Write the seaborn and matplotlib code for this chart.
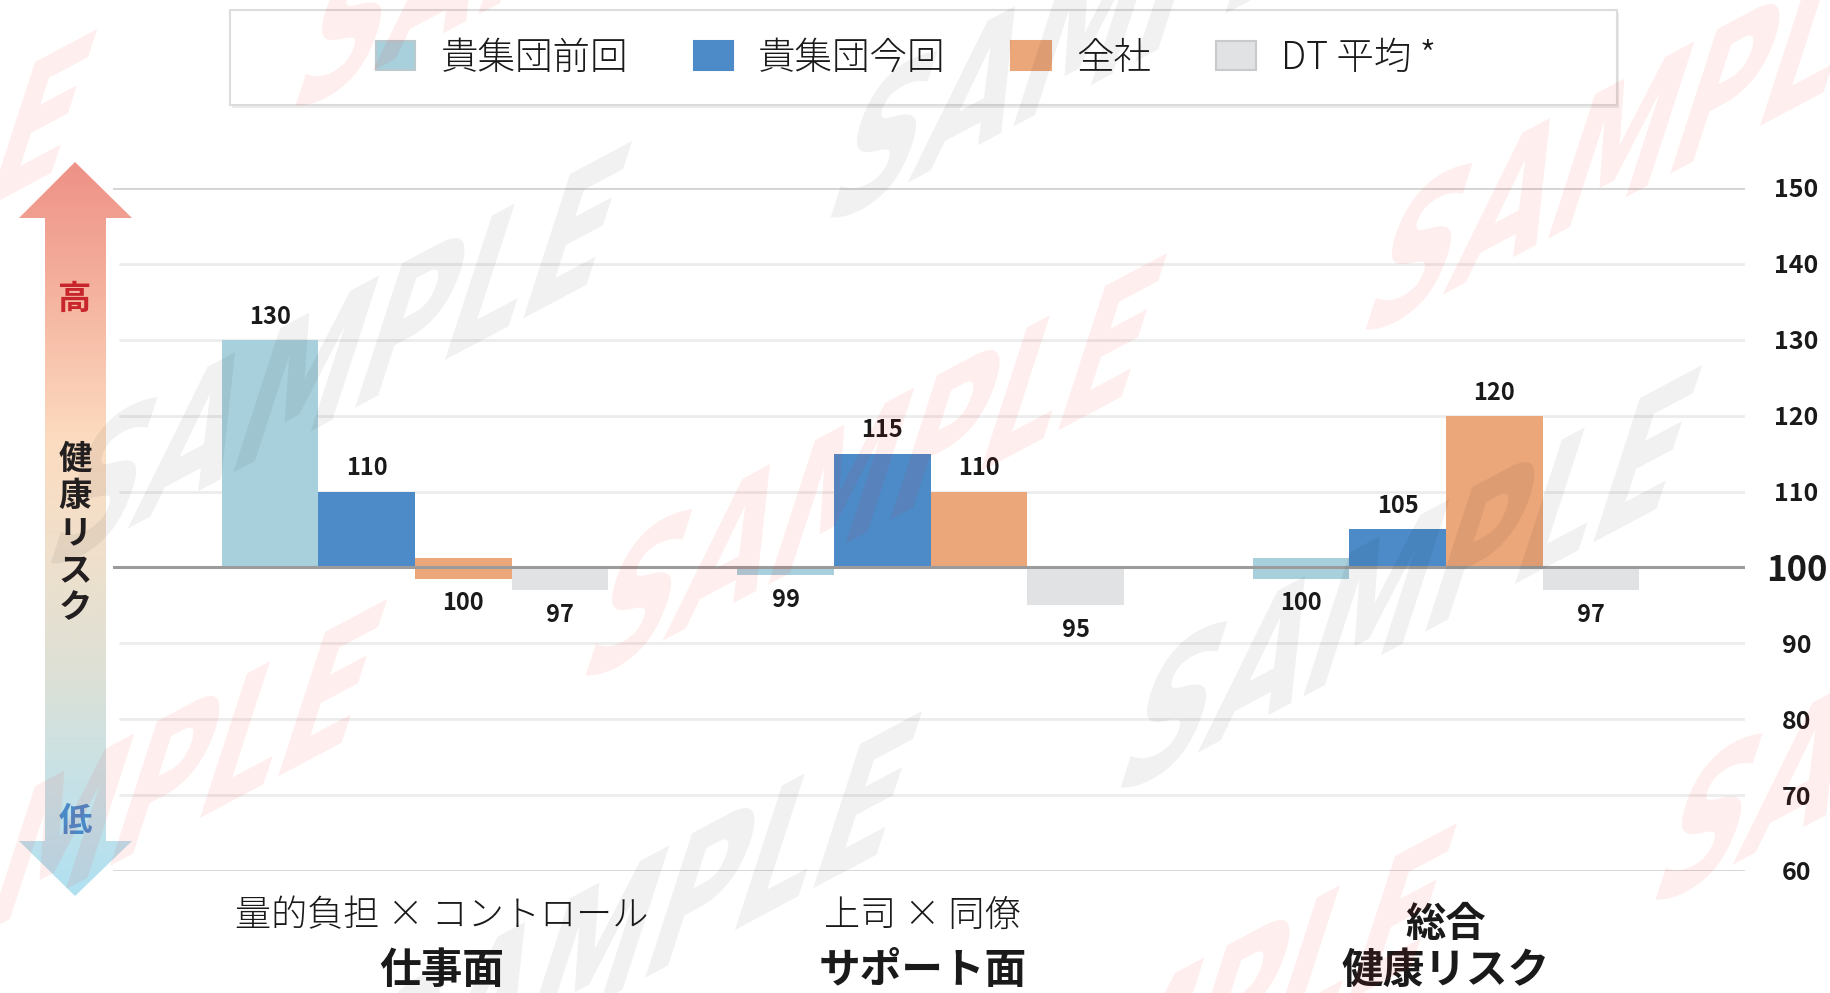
import numpy as np
import pandas as pd
import matplotlib
matplotlib.use("Agg")
import matplotlib.pyplot as plt
import matplotlib.patheffects as pe
from matplotlib.colors import LinearSegmentedColormap
from matplotlib.patches import Patch, Polygon, Rectangle
from matplotlib.transforms import Affine2D
import seaborn as sns

# ---------------- data ----------------
group_line1 = ["量的負担 × コントロール", "上司 × 同僚", "総合"]
group_line2 = ["仕事面", "サポート面", "健康リスク"]
series_names = ["貴集団前回", "貴集団今回", "全社", "DT 平均 *"]
prev_values = [130, 99, 100]
curr_values = [110, 115, 105]
company_values = [100, 110, 120]
dt_values = [97, 95, 97]
y_ticks = [60, 70, 80, 90, 100, 110, 120, 130, 140, 150]
baseline = 100
axis_high, axis_mid, axis_low = "高", "健康リスク", "低"
watermark_text = "SAMPLE"

# ---------------- style ----------------
colors = ["#a7d0dc", "#4c8bc8", "#eba679", "#e1e2e4"]
legend_edges = ["#b9c9ce", "#4c8bc8", "#eba679", "#c9cacc"]
W, H = 1831, 993
AX_L, AX_R, AX_T, AX_B = 113, 1745, 188, 871   # pixel frame of plot area
STUB_LO, STUB_HI = 1.5, 1.2                      # visual stub for bars equal to baseline
label_dx_pt = [19, -6, 0]                        # horizontal nudge of category captions

sns.set_style("white")
plt.rcParams["font.family"] = ["Noto Sans CJK JP", "DejaVu Sans"]

groups = [f"{a}\n{b}" for a, b in zip(group_line1, group_line2)]
values = [prev_values, curr_values, company_values, dt_values]
df = pd.DataFrame(
    [{"group": g, "series": s, "value": v}
     for s, vals in zip(series_names, values) for g, v in zip(groups, vals)]
)
df["delta"] = df["value"] - baseline

fig = plt.figure(figsize=(W / 100, H / 100), dpi=100)
fig.patch.set_facecolor("white")

# background overlay in pixel coordinates
bg = fig.add_axes([0, 0, 1, 1], zorder=-5)
bg.axis("off")

ax = fig.add_axes([AX_L / W, 1 - AX_B / H, (AX_R - AX_L) / W, (AX_B - AX_T) / H], zorder=1)
ax.patch.set_alpha(0)

sns.barplot(data=df, x="group", y="delta", hue="series", order=groups,
            hue_order=series_names, palette=colors, saturation=1, width=0.75,
            gap=0, legend=False, ax=ax, zorder=2, linewidth=0)

# stubs for values sitting on the baseline
for container in ax.containers:
    for bar in container:
        if bar.get_height() == 0:
            bar.set_y(-STUB_LO)
            bar.set_height(STUB_LO + STUB_HI)

# value labels
for container, vals in zip(ax.containers, values):
    for bar, v in zip(container, vals):
        cx = bar.get_x() + bar.get_width() / 2
        y0, y1 = bar.get_y(), bar.get_y() + bar.get_height()
        if v > baseline:
            ax.annotate(str(v), (cx, max(y0, y1)), xytext=(0, 8), textcoords="offset points",
                        ha="center", va="bottom", fontsize=17, fontweight="bold", color="#1a1a1a")
        else:
            ax.annotate(str(v), (cx, min(y0, y1)), xytext=(0, -9), textcoords="offset points",
                        ha="center", va="top", fontsize=17, fontweight="bold", color="#1a1a1a")

# horizontal grid lines
for t in y_ticks:
    if t == baseline:
        ax.axhline(t - baseline, color="#9b9b9b", lw=2.2, zorder=3)
    elif t in (y_ticks[0], y_ticks[-1]):
        ax.axhline(t - baseline, color="#d4d4d4", lw=2, zorder=0.5)
    else:
        ax.axhline(t - baseline, xmin=0.004, color="#ececec", lw=2, zorder=0.5)

ax.set_ylim(y_ticks[0] - baseline, y_ticks[-1] - baseline)
ax.set_xlim(-0.586, 2.580)
ax.set_yticks([t - baseline for t in y_ticks])
ax.set_yticklabels([str(t) for t in y_ticks])
ax.yaxis.tick_right()
ax.tick_params(axis="y", length=0, pad=37, labelsize=18, labelcolor="#1a1a1a")
for t, lab in zip(y_ticks, ax.get_yticklabels()):
    lab.set_ha("center")
    lab.set_fontweight("bold")
    if t == baseline:
        lab.set_fontsize(25)
ax.set_xticks(range(len(groups)))
ax.set_xticklabels([])
ax.tick_params(axis="x", length=0)
ax.set_xlabel("")
ax.set_ylabel("")
ax.grid(False)
sns.despine(ax=ax, left=True, bottom=True, right=True, top=True)

# category labels (two lines)
def ay(px):
    return (AX_B - px) / (AX_B - AX_T)

trans = ax.get_xaxis_transform()
for i, (l1, l2) in enumerate(zip(group_line1, group_line2)):
    bold_first = i == len(groups) - 1
    ax.annotate(l1, (i, ay(924 if bold_first else 916)), xycoords=trans,
                xytext=(label_dx_pt[i], 0), textcoords="offset points", ha="center", va="center",
                fontsize=29 if bold_first else 26, fontweight="bold" if bold_first else "light",
                color="#1a1a1a", annotation_clip=False)
    ax.annotate(l2, (i, ay(971)), xycoords=trans,
                xytext=(label_dx_pt[i], 0), textcoords="offset points", ha="center", va="center",
                fontsize=30, fontweight="bold", color="#1a1a1a", annotation_clip=False)

# legend with frame
handles = [Patch(facecolor=c, edgecolor=e, linewidth=1.5) for c, e in zip(colors, legend_edges)]
fig.legend(handles, series_names, ncol=4, loc="center", bbox_to_anchor=(906 / W, 1 - 58 / H),
           frameon=False, prop={"size": 27, "weight": "light"}, handlelength=1.05,
           handleheight=0.8, handletextpad=0.67, columnspacing=1.75, borderpad=0,
           labelcolor="#1a1a1a")
bg.add_patch(Rectangle((232, 13), 1387, 95, facecolor="#ebebeb", edgecolor="none", zorder=1))
bg.add_patch(Rectangle((230, 10), 1387, 95, facecolor="white", edgecolor="#dcdcdc", lw=1.5, zorder=2))

# gradient arrow on the left
arrow_cmap = LinearSegmentedColormap.from_list(
    "risk", [(0, "#ee9187"), (0.15, "#f4ad9a"), (0.38, "#fcdcc0"), (0.55, "#eee0cd"),
             (0.7, "#dde0d6"), (0.85, "#c6e2e7"), (1, "#b0e0f1")])
verts = [(75, 162), (132, 218), (106, 218), (106, 841), (132, 841), (75, 896),
         (19, 841), (45, 841), (45, 218), (19, 218)]
poly = Polygon(verts, closed=True, facecolor="none", edgecolor="none")
bg.add_patch(poly)
im = bg.imshow(np.linspace(0, 1, 256)[:, None], cmap=arrow_cmap, extent=(19, 132, 896, 162),
               aspect="auto", interpolation="bicubic", zorder=3)
im.set_clip_path(poly)
bg.text(75, 299, axis_high, ha="center", va="center", fontsize=24, fontweight="bold", color="#c8242b", zorder=4)
bg.text(75, 534, "\n".join(axis_mid), ha="center", va="center", fontsize=24, fontweight="bold",
        color="#231f20", linespacing=1.17, zorder=4)
bg.text(75, 821, axis_low, ha="center", va="center", fontsize=24, fontweight="bold", color="#4a89c8", zorder=4)
bg.set_xlim(0, W)
bg.set_ylim(H, 0)

# faint sheared watermark
class Shear(pe.AbstractPathEffect):
    def __init__(self, center, m):
        super().__init__()
        self.center, self.m = center, m

    def draw_path(self, renderer, gc, tpath, affine, rgbFace=None):
        cx, cy = self.center
        a, b, c, d = self.m
        extra = (Affine2D().translate(-cx, -cy) + Affine2D.from_values(a, b, c, d, 0, 0)
                 + Affine2D().translate(cx, cy))
        renderer.draw_path(gc, tpath, affine + extra, rgbFace)

ang_u, ang_v, sy = np.radians(28), np.radians(72), 1.5
mat = (np.cos(ang_u), np.sin(ang_u), sy * np.cos(ang_v), sy * np.sin(ang_v))
origin, step_a, step_b = np.array([870, 485]), np.array([535, 112]), np.array([290, 570])
for j in range(-2, 3):
    for i in range(-4, 5):
        x, y = origin + i * step_a + j * step_b
        if -400 < x < W + 400 and -250 < y < H + 250:
            red = i % 2 == 0
            fig.text(x / W, 1 - y / H, watermark_text, ha="center", va="center", fontsize=100,
                     fontweight="bold", family="DejaVu Sans",
                     color="#ff1010" if red else "#000000", alpha=0.07 if red else 0.055,
                     zorder=10, path_effects=[Shear((x, H - y), mat)])

fig.savefig("out.png", dpi=100, facecolor="white")
